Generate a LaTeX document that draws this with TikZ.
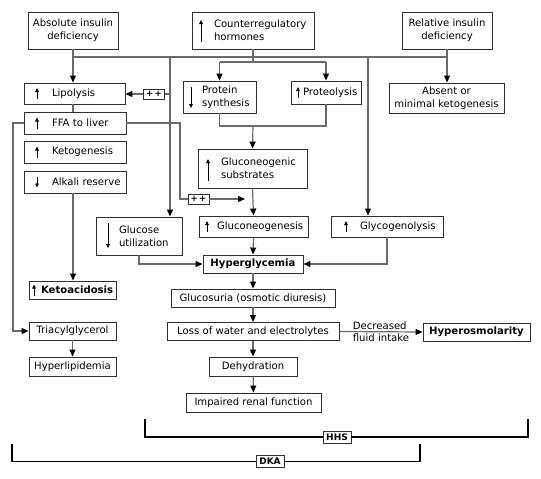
\documentclass[tikz,border=0pt]{standalone}
\usepackage{fontspec}
\setmainfont{DejaVu Sans}
\usetikzlibrary{arrows.meta}
\definecolor{lc}{HTML}{6a6a6a}
\definecolor{bc}{HTML}{303030}
\newcommand{\lpad}[1]{\hspace*{#1pt}}
\begin{document}
\begin{tikzpicture}[x=1pt,y=-1pt,
  font=\fontsize{10.1}{12.8}\selectfont,
  bx/.style 2 args={draw=bc, line width=0.9pt, inner sep=0pt, align=center, minimum width=#1, minimum height=#2},
  lbx/.style 2 args={draw=bc, line width=0.9pt, inner sep=0pt, align=left, text width=#1, minimum height=#2},
  pp/.style={draw=bc, line width=0.8pt, inner sep=0pt, minimum width=21, minimum height=10, font=\fontsize{8.5}{8.5}\selectfont\bfseries},
  brl/.style={draw=bc, line width=0.9pt, inner sep=0pt, minimum width=28, minimum height=12, font=\fontsize{9}{9}\selectfont\bfseries},
  conn/.style={draw=lc, line width=1.2pt},
  arr/.style={conn, -{Triangle[length=7pt,width=6pt,color=black]}},
  gl/.style={draw=black, line width=0.8pt, -{Triangle[length=4pt,width=3.6pt]}},
  brk/.style={draw=black, line width=1.5pt}]
\useasboundingbox (0,0) rectangle (541,479);

% top row
\node[bx={90}{37}] (abs) at (73,30.5) {Absolute insulin\\deficiency};
\node[lbx={122}{37}] (hor) at (253,30.5) {\lpad{22}Counterregulatory\\\lpad{22}hormones};
\node[bx={90}{37}] (rel) at (447,30.5) {Relative insulin\\deficiency};

% left stack
\node[lbx={101}{21}] (lip) at (74.5,93.5) {\lpad{28}Lipolysis};
\node[lbx={102}{22}] (ffa) at (75,123) {\lpad{28}FFA to liver};
\node[lbx={102}{22}] (keto) at (75,152) {\lpad{28}Ketogenesis};
\node[lbx={102}{22}] (alk) at (75,182) {\lpad{28}Alkali reserve};
\node[lbx={87}{18}] (ketoa) at (72.5,290) {\lpad{12}\textbf{Ketoacidosis}};
\node[bx={87}{18}] (tri) at (72.5,331) {Triacylglycerol};
\node[bx={87}{19}] (hlip) at (72.5,366.5) {Hyperlipidemia};

% middle
\node[lbx={73}{32}] (ps) at (219.5,97) {\lpad{19}Protein\\\lpad{19}synthesis};
\node[lbx={70}{23}] (prot) at (326,92.5) {\lpad{12}Proteolysis};
\node[bx={115}{30}] (absent) at (446.5,98) {Absent or\\minimal ketogenesis};
\node[lbx={109}{39}] (gs) at (252.5,168.5) {\lpad{23}Gluconeogenic\\\lpad{23}substrates};
\node[lbx={86}{38}] (gu) at (139,236) {\lpad{23}Glucose\\\lpad{23}utilization};
\node[lbx={109}{21}] (gng) at (253.5,226.5) {\lpad{18}Gluconeogenesis};
\node[lbx={112}{21}] (gly) at (387,226.5) {\lpad{29}Glycogenolysis};
\node[bx={100}{18}] (hyper) at (253,264) {\textbf{Hyperglycemia}};
\node[bx={164}{18}] (gluc) at (253,298) {Glucosuria (osmotic diuresis)};
\node[bx={172}{18}] (loss) at (253,331.5) {Loss of water and electrolytes};
\node[bx={107}{18}] (hosm) at (476.5,332) {\textbf{Hyperosmolarity}};
\node[bx={88}{19}] (dehyd) at (253,366.5) {Dehydration};
\node[bx={135}{19}] (renal) at (253.5,402.5) {Impaired renal function};

% ++ boxes
\node[pp] (pp1) at (154,94) {+\,+};
\node[pp] (pp2) at (198.5,199) {+\,+};

% bracket labels
\node[brl] (hhs) at (337,437) {HHS};
\node[brl] (dka) at (270,461.5) {DKA};

% glyph arrows inside boxes
\draw[gl] (201,42) -- (201,20);
\draw[gl] (37,99) -- (37,88);
\draw[gl] (37,128.5) -- (37,117.5);
\draw[gl] (37,157.5) -- (37,146.5);
\draw[gl] (37,176.5) -- (37,187.5);
\draw[gl] (191,87) -- (191,108);
\draw[gl] (298,98) -- (298,87);
\draw[gl] (208,181) -- (208,159);
\draw[gl] (108,223) -- (108,248);
\draw[gl] (207,232) -- (207,221);
\draw[gl] (346,232) -- (346,221);
\draw[gl] (34,295.5) -- (34,284.5);

% coordinates
\coordinate (busL) at (73,57);
\coordinate (busR) at (447,57);
\coordinate (b170) at (170,57);
\coordinate (b368) at (368,57);
\coordinate (hbr) at (253,62);
\coordinate (j1) at (253,126);
\coordinate (f1) at (180,123);
\coordinate (f2) at (180,199);
\coordinate (fend) at (245,199);
\coordinate (t1) at (13,123);

% connectors
\draw[conn] (busL) -- (busR);
\draw[arr] (abs.south) -- (abs.south |- lip.north);
\draw[arr] (rel.south) -- (rel.south |- absent.north);
\draw[conn] (hor.south) -- (hbr);
\draw[conn] (ps.north |- hbr) -- (prot.north |- hbr);
\draw[arr] (ps.north |- hbr) -- (ps.north);
\draw[arr] (prot.north |- hbr) -- (prot.north);
\draw[arr] (b170) -- (b170 |- gu.north);
\draw[conn] (b170 |- pp1.east) -- (pp1.east);
\draw[arr] (pp1.west) -- (lip.east |- pp1.west);
\draw[arr] (b368) -- (b368 |- gly.north);
\draw[conn] (ps.south) |- (j1) -| (prot.south);
\draw[arr] (j1) -- (gs.north);
\draw[arr] (gs.south) -- (gng.north);
\draw[arr] (gng.south) -- (hyper.north);
\draw[arr] (gu.south) |- (hyper.west);
\draw[arr] (gly.south) |- (hyper.east);
\draw[arr] (hyper) -- (gluc);
\draw[arr] (gluc) -- (loss);
\draw[arr] (loss) -- (dehyd);
\draw[arr] (dehyd) -- (renal);
\draw[arr] (loss.east) -- node[align=left, inner sep=0pt, font=\fontsize{10.1}{11.5}\selectfont, text=black] {Decreased\\fluid intake} (hosm.west);
\draw[conn] (ffa.east) -- (f1) -- (f2) -- (pp2.west);
\draw[arr] (pp2.east) -- (fend);
\draw[arr] (ffa.west) -- (t1) |- (tri.west);
\draw[conn] (lip.south -| abs.south) -- (ffa.north -| abs.south);
\draw[arr] (alk.south -| abs.south) -- (ketoa.north -| abs.south);
\draw[arr] (tri) -- (hlip);

% brackets
\draw[brk] (145,419) -- (145,437) -- (hhs.west);
\draw[brk] (hhs.east) -- (528,437) -- (528,419);
\draw[brk] (12,444) -- (12,461.5) -- (dka.west);
\draw[brk] (dka.east) -- (420,461.5) -- (420,444);
\end{tikzpicture}
\end{document}
